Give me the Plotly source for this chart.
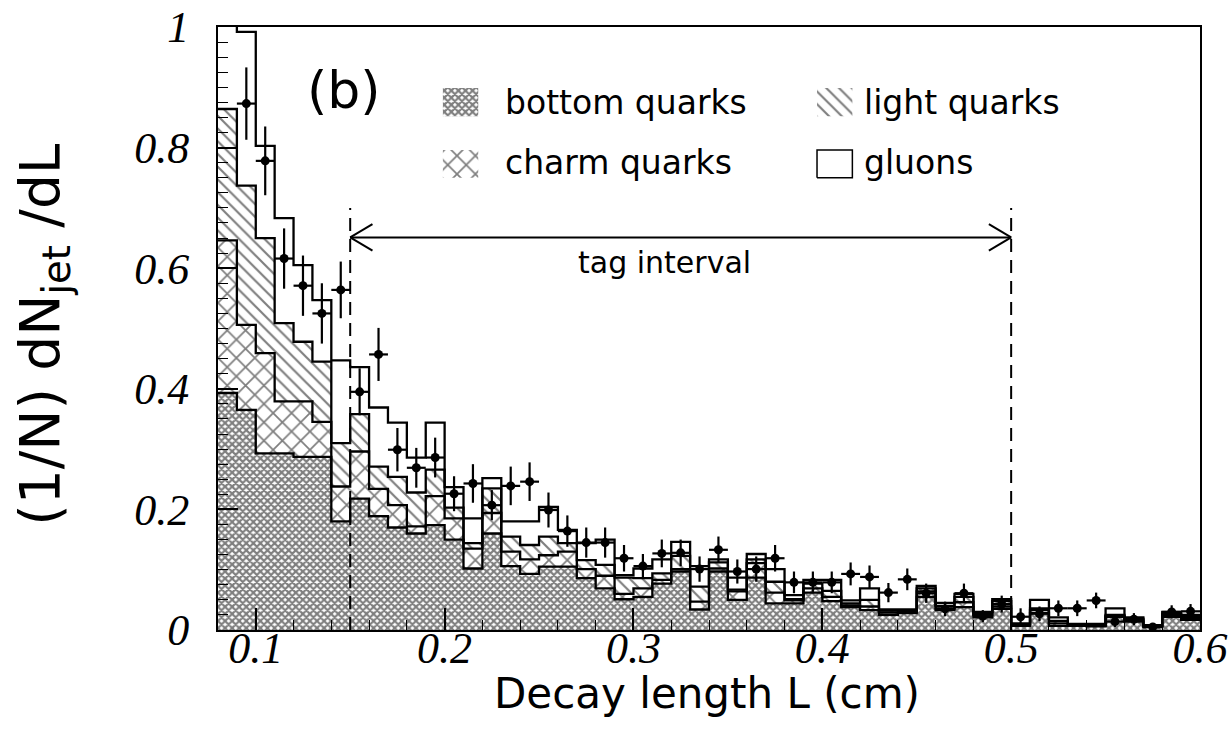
import plotly.graph_objects as go

# Histogram binning of the decay length L (cm)
bin_lo = 0.08
bin_width = 0.01
n_bins = 52
edges = [round(bin_lo + i * bin_width, 3) for i in range(n_bins + 1)]
centers = [round(bin_lo + (i + 0.5) * bin_width, 4) for i in range(n_bins)]

# Upper edge of each stacked Monte Carlo component (cumulative)
stack_bottom = [0.393, 0.365, 0.293, 0.293, 0.287, 0.287, 0.180, 0.218, 0.189, 0.170,
                0.160, 0.174, 0.150, 0.102, 0.160, 0.106, 0.093, 0.105, 0.105, 0.086,
                0.069, 0.051, 0.055, 0.077, 0.097, 0.034, 0.097, 0.050, 0.087, 0.044,
                0.044, 0.062, 0.048, 0.038, 0.033, 0.025, 0.028, 0.055, 0.033, 0.038,
                0.021, 0.035, 0.007, 0.028, 0.007, 0.007, 0.006, 0.022, 0.014, 0.005,
                0.022, 0.017]
stack_charm = [0.646, 0.506, 0.459, 0.379, 0.379, 0.345, 0.238, 0.296, 0.234, 0.207,
               0.172, 0.222, 0.185, 0.135, 0.194, 0.130, 0.117, 0.124, 0.130, 0.101,
               0.090, 0.060, 0.069, 0.083, 0.101, 0.047, 0.102, 0.064, 0.111, 0.062,
               0.049, 0.069, 0.055, 0.041, 0.039, 0.029, 0.030, 0.064, 0.036, 0.046,
               0.025, 0.039, 0.008, 0.033, 0.011, 0.008, 0.007, 0.023, 0.017, 0.006,
               0.025, 0.020]
stack_light = [0.864, 0.737, 0.650, 0.509, 0.478, 0.445, 0.310, 0.358, 0.271, 0.254,
               0.228, 0.266, 0.203, 0.144, 0.235, 0.155, 0.141, 0.155, 0.144, 0.116,
               0.108, 0.087, 0.086, 0.094, 0.123, 0.072, 0.112, 0.067, 0.117, 0.080,
               0.051, 0.077, 0.065, 0.044, 0.050, 0.032, 0.032, 0.069, 0.040, 0.055,
               0.027, 0.048, 0.009, 0.036, 0.015, 0.009, 0.008, 0.025, 0.019, 0.007,
               0.027, 0.022]
stack_gluon = [1.050, 0.992, 0.803, 0.683, 0.605, 0.547, 0.447, 0.436, 0.369, 0.344,
               0.286, 0.344, 0.237, 0.185, 0.252, 0.180, 0.180, 0.204, 0.166, 0.144,
               0.150, 0.091, 0.102, 0.117, 0.146, 0.106, 0.117, 0.087, 0.126, 0.101,
               0.058, 0.083, 0.083, 0.049, 0.069, 0.034, 0.034, 0.073, 0.045, 0.060,
               0.030, 0.051, 0.011, 0.050, 0.021, 0.010, 0.010, 0.036, 0.021, 0.008,
               0.030, 0.025]

# Measured distribution with statistical errors (first bin empty)
data_val = [None, 0.873, 0.778, 0.616, 0.571, 0.525, 0.564, 0.395, 0.457, 0.299,
            0.269, 0.286, 0.226, 0.243, 0.207, 0.239, 0.246, 0.199, 0.164, 0.145,
            0.145, 0.119, 0.106, 0.127, 0.128, 0.101, 0.133, 0.097, 0.101, 0.119,
            0.079, 0.079, 0.079, 0.093, 0.088, 0.062, 0.084, 0.061, 0.035, 0.061,
            0.023, 0.043, 0.022, 0.027, 0.036, 0.036, 0.049, 0.014, 0.018, 0.005,
            0.030, 0.031]
data_err = [None, 0.060, 0.057, 0.050, 0.050, 0.050, 0.047, 0.039, 0.044, 0.036,
            0.033, 0.033, 0.029, 0.032, 0.025, 0.032, 0.032, 0.029, 0.026, 0.025,
            0.025, 0.022, 0.020, 0.023, 0.022, 0.021, 0.022, 0.020, 0.021, 0.022,
            0.018, 0.018, 0.018, 0.019, 0.019, 0.016, 0.018, 0.016, 0.012, 0.016,
            0.010, 0.014, 0.014, 0.012, 0.013, 0.013, 0.013, 0.009, 0.010, 0.006,
            0.011, 0.012]

# Tag interval limits (cm)
tag_lo = 0.15
tag_hi = 0.50

x_ticks = [0.1, 0.2, 0.3, 0.4, 0.5, 0.6]
x_ticktext = ["0.1", "0.2", "0.3", "0.4", "0.5", "0.6"]
y_ticks = [0, 0.2, 0.4, 0.6, 0.8, 1.0]
y_ticktext = ["0", "0.2", "0.4", "0.6", "0.8", "1"]

# Pattern fills per flavour
pat_bottom = dict(shape="x", size=5, solidity=0.68, fgcolor="black", bgcolor="white")
pat_charm = dict(shape="x", size=13, solidity=0.25, fgcolor="black", bgcolor="white")
pat_light = dict(shape="\\", size=9, solidity=0.24, fgcolor="black", bgcolor="white")
pat_gluon = dict(shape="", fgcolor="black", bgcolor="white")

levels = [stack_bottom, stack_charm, stack_light, stack_gluon]
patterns = [pat_bottom, pat_charm, pat_light, pat_gluon]

fig = go.Figure()

# Stacked components drawn as differences between cumulative tops
prev = [0.0] * n_bins
for lev, pat in zip(levels, patterns):
    comp = [round(t - p, 4) for t, p in zip(lev, prev)]
    fig.add_trace(go.Bar(
        x=centers, y=comp, width=bin_width,
        marker=dict(color="white", line=dict(width=0), pattern=pat),
        showlegend=False, hoverinfo="skip"))
    prev = lev

# Histogram step outlines
for lev in levels:
    fig.add_trace(go.Scatter(
        x=edges, y=lev + [lev[-1]], mode="lines",
        line=dict(shape="hv", color="black", width=2.3),
        showlegend=False, hoverinfo="skip"))

# Data points with errors
fig.add_trace(go.Scatter(
    x=centers, y=data_val, mode="markers",
    marker=dict(size=9, color="black"),
    error_y=dict(type="data", array=data_err, thickness=2.2, width=0, color="black"),
    error_x=dict(type="constant", value=bin_width / 2, thickness=2.2, width=0, color="black"),
    showlegend=False))

# Legend swatches on an overlay frame spanning the plot area
def box(x0, x1, y0, y1):
    return [x0, x1, x1, x0, x0], [y0, y0, y1, y1, y0]

swatches = [
    (box(0.229, 0.265, 0.852, 0.899), pat_bottom, 0),
    (box(0.229, 0.265, 0.750, 0.796), pat_charm, 0),
    (box(0.610, 0.646, 0.852, 0.899), pat_light, 0),
    (box(0.610, 0.646, 0.750, 0.796), pat_gluon, 1.5),
]
for (sx, sy), pat, lw in swatches:
    fig.add_trace(go.Scatter(
        x=sx, y=sy, xaxis="x2", yaxis="y2", mode="lines", fill="toself",
        fillcolor="white", fillpattern=pat,
        line=dict(color="black" if lw else "rgba(0,0,0,0)", width=lw if lw else 1),
        showlegend=False, hoverinfo="skip"))

sans = "DejaVu Sans"
labels = [
    ("bottom quarks", 0.290, 0.874),
    ("charm quarks", 0.290, 0.7745),
    ("light quarks", 0.656, 0.874),
    ("gluons", 0.656, 0.7745),
]
annotations = []
for txt, ax_, ay_ in labels:
    annotations.append(dict(text=txt, x=ax_, y=ay_, xref="paper", yref="paper",
                            xanchor="left", yanchor="middle", showarrow=False,
                            font=dict(family=sans, size=33, color="black")))

annotations += [
    dict(text="(b)", x=0.128, y=0.895, xref="paper", yref="paper", showarrow=False,
         xanchor="center", yanchor="middle", font=dict(family=sans, size=52, color="black")),
    dict(text="tag interval", x=0.455, y=0.610, xref="paper", yref="paper", showarrow=False,
         xanchor="center", yanchor="middle", font=dict(family=sans, size=30, color="black")),
    dict(text="Decay length L (cm)", x=0.498, y=-0.106, xref="paper", yref="paper",
         showarrow=False, xanchor="center", yanchor="middle",
         font=dict(family=sans, size=42, color="black")),
    dict(text="(1/N) dN<sub>jet</sub> /dL", x=-0.178, y=0.49, xref="paper", yref="paper",
         showarrow=False, xanchor="center", yanchor="middle", textangle=-90,
         font=dict(family=sans, size=55, color="black")),
]

# Tag interval: dashed limits and double arrow
arrow_y = 0.651
head_dx = 0.0118
head_dy = 0.022
shapes = []
for xv in (tag_lo, tag_hi):
    shapes.append(dict(type="line", x0=xv, x1=xv, y0=0, y1=0.70, xref="x", yref="y",
                       line=dict(color="black", width=2, dash="13px,8px")))
shapes.append(dict(type="line", x0=tag_lo, x1=tag_hi, y0=arrow_y, y1=arrow_y,
                   xref="x", yref="y", line=dict(color="black", width=2)))
for tip, sgn in ((tag_lo, 1), (tag_hi, -1)):
    for dy in (head_dy, -head_dy):
        shapes.append(dict(type="line", x0=tip, y0=arrow_y, x1=tip + sgn * head_dx,
                           y1=arrow_y + dy, xref="x", yref="y",
                           line=dict(color="black", width=2)))

tickfont = dict(family="Liberation Serif", size=44, color="black", style="italic")

fig.update_layout(
    width=1232, height=744,
    margin=dict(l=218, r=32, t=27, b=114),
    paper_bgcolor="white", plot_bgcolor="white",
    barmode="stack", bargap=0,
    showlegend=False,
    annotations=annotations,
    shapes=shapes,
    xaxis=dict(range=[bin_lo, 0.6], tickvals=x_ticks, ticktext=x_ticktext,
               ticks="inside", ticklen=22, tickwidth=1.5, tickcolor="black",
               minor=dict(dtick=0.02, tick0=0.0, ticks="inside", ticklen=10,
                          tickwidth=1.2, tickcolor="black"),
               showline=True, mirror=True, linewidth=2, linecolor="black",
               showgrid=False, zeroline=False, tickfont=tickfont,
               ticklabelstandoff=-22, automargin=False),
    yaxis=dict(range=[0, 1], tickvals=y_ticks, ticktext=y_ticktext,
               ticks="inside", ticklen=20, tickwidth=1.5, tickcolor="black",
               minor=dict(dtick=0.025, tick0=0.0, ticks="inside", ticklen=10,
                          tickwidth=1.2, tickcolor="black"),
               showline=True, mirror=True, linewidth=2, linecolor="black",
               showgrid=False, zeroline=False, tickfont=tickfont,
               ticklabelstandoff=18, automargin=False),
    xaxis2=dict(overlaying="x", range=[0, 1], visible=False, fixedrange=True),
    yaxis2=dict(overlaying="y", range=[0, 1], visible=False, fixedrange=True),
)

fig.write_html("out.html")
